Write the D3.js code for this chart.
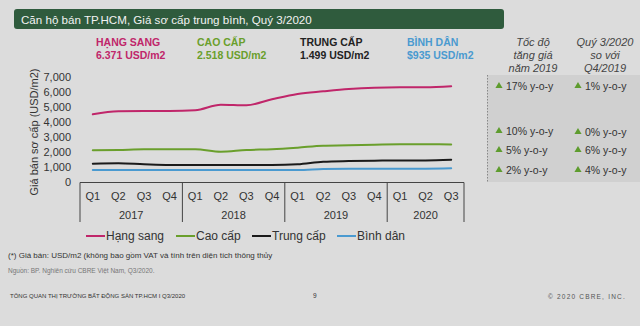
<!DOCTYPE html>
<html>
<head>
<meta charset="utf-8">
<script src="https://cdn.jsdelivr.net/npm/d3@7"></script>
<style>
  html, body { margin: 0; padding: 0; background: #dcdcdc; }
  svg { display: block; font-family: "Liberation Sans", Arial, sans-serif; }
</style>
</head>
<body>
<svg id="chart" width="640" height="326"></svg>
<script>
// Quarterly primary prices, HCMC condominiums (USD/m2)
const quarters = ["Q1","Q2","Q3","Q4","Q1","Q2","Q3","Q4","Q1","Q2","Q3","Q4","Q1","Q2","Q3"];
const years = ["2017","2018","2019","2020"];
const yearQuarterCounts = [4, 4, 4, 3];
const hangSang = [4516, 4715, 4735, 4735, 4781, 5152, 5113, 5510, 5862, 6040, 6194, 6280, 6306, 6306, 6371];
const caoCap   = [2128, 2150, 2195, 2195, 2195, 2036, 2150, 2195, 2300, 2434, 2456, 2500, 2522, 2522, 2518];
const trungCap = [1240, 1266, 1200, 1154, 1154, 1154, 1154, 1154, 1200, 1373, 1417, 1440, 1460, 1460, 1499];
const binhDan  = [822, 822, 822, 822, 822, 822, 822, 822, 822, 889, 911, 911, 911, 911, 935];
const yTicks = [0, 1000, 2000, 3000, 4000, 5000, 6000, 7000];

const seriesNames = ["Hạng sang", "Cao cấp", "Trung cấp", "Bình dân"];
const headerNames = ["HẠNG SANG", "CAO CẤP", "TRUNG CẤP", "BÌNH DÂN"];
const headerValues = ["6.371 USD/m2", "2.518 USD/m2", "1.499 USD/m2", "$935 USD/m2"];
const growth2019 = ["17% y-o-y", "10% y-o-y", "5% y-o-y", "2% y-o-y"];
const growthQ3 = ["1% y-o-y", "0% y-o-y", "6% y-o-y", "4% y-o-y"];
const colors = ["#c0266a", "#6a9f2c", "#1a1a1a", "#4a9ad0"];

const svg = d3.select("#chart");

// title bar
svg.append("rect").attr("x", 14).attr("y", 9).attr("width", 490).attr("height", 20)
  .attr("rx", 3).attr("fill", "#2f5b3d");
svg.append("text").attr("x", 21).attr("y", 23.5).attr("fill", "#f2f2f2")
  .attr("font-size", 11.6).text("Căn hộ bán TP.HCM, Giá sơ cấp trung bình, Quý 3/2020");

// header: segment name + latest price
const headerX = [96, 197, 300, 407];
headerNames.forEach((n, i) => {
  const c = colors[i] === "#1a1a1a" ? "#222" : colors[i];
  svg.append("text").attr("x", headerX[i]).attr("y", 46).attr("font-size", 10.5)
    .attr("font-weight", "bold").attr("fill", c).text(n);
  svg.append("text").attr("x", headerX[i]).attr("y", 59).attr("font-size", 10.5)
    .attr("font-weight", "bold").attr("fill", c).text(headerValues[i]);
});

// scales
const x = d3.scaleBand().domain(d3.range(quarters.length)).range([80, 464]).padding(0);
const y = d3.scaleLinear().domain([0, 7000]).range([182.4, 76.8]);

// y axis (labels only)
const yAxis = d3.axisLeft(y).tickValues(yTicks).tickFormat(d3.format(",")).tickSize(0).tickPadding(0);
const gy = svg.append("g").attr("transform", "translate(71,0)").call(yAxis);
gy.select(".domain").remove();
gy.selectAll("text").attr("font-size", 11).attr("fill", "#333")
  .attr("font-family", "'Liberation Sans', Arial, sans-serif");

svg.append("text")
  .attr("transform", "translate(38,132) rotate(-90)")
  .attr("text-anchor", "middle").attr("font-size", 11).attr("fill", "#333")
  .text("Giá bán sơ cấp (USD/m2)");

// category box: quarters and years
const xAxisG = svg.append("g");
xAxisG.append("line").attr("x1", 80).attr("x2", 464).attr("y1", 182.5).attr("y2", 182.5)
  .attr("stroke", "#444").attr("stroke-width", 1);
let start = 0;
const bounds = [0];
yearQuarterCounts.forEach(c => { start += c; bounds.push(start); });
bounds.forEach(b => {
  const bx = b < quarters.length ? x(b) : x(quarters.length - 1) + x.bandwidth();
  xAxisG.append("line").attr("x1", bx).attr("x2", bx).attr("y1", 182.5).attr("y2", 222)
    .attr("stroke", "#444").attr("stroke-width", 1);
});
quarters.forEach((q, i) => {
  xAxisG.append("text").attr("x", x(i) + x.bandwidth() / 2).attr("y", 200)
    .attr("text-anchor", "middle").attr("font-size", 11).attr("fill", "#333").text(q);
});
years.forEach((yr, i) => {
  const x0 = x(bounds[i]);
  const x1 = bounds[i + 1] < quarters.length ? x(bounds[i + 1]) : x(quarters.length - 1) + x.bandwidth();
  xAxisG.append("text").attr("x", (x0 + x1) / 2).attr("y", 219)
    .attr("text-anchor", "middle").attr("font-size", 11).attr("fill", "#333").text(yr);
});

// series lines
const allSeries = [hangSang, caoCap, trungCap, binhDan];
const line = d3.line()
  .x((d, i) => x(i) + x.bandwidth() / 2)
  .y(d => y(d))
  .curve(d3.curveMonotoneX);
allSeries.forEach((s, i) => {
  svg.append("path").datum(s).attr("d", line).attr("fill", "none")
    .attr("stroke", colors[i]).attr("stroke-width", 2).attr("stroke-linecap", "round");
});

// legend
const legendX = [86, 176, 252, 337];
seriesNames.forEach((n, i) => {
  svg.append("line").attr("x1", legendX[i]).attr("x2", legendX[i] + 19)
    .attr("y1", 236).attr("y2", 236).attr("stroke", colors[i]).attr("stroke-width", 2);
  svg.append("text").attr("x", legendX[i] + 20).attr("y", 240).attr("font-size", 12)
    .attr("fill", "#333").text(n);
});

// growth table
svg.append("rect").attr("x", 487).attr("y", 75).attr("width", 153).attr("height", 107)
  .attr("fill", "#d0d0d0");
svg.append("line").attr("x1", 487.5).attr("x2", 487.5).attr("y1", 75).attr("y2", 182)
  .attr("stroke", "#888").attr("stroke-dasharray", "1.5,1.5");
const colHeads = [["Tốc độ", "tăng giá", "năm 2019"], ["Quý 3/2020", "so với", "Q4/2019"]];
const colX = [533, 605];
colHeads.forEach((lines, c) => {
  lines.forEach((t, k) => {
    svg.append("text").attr("x", colX[c]).attr("y", 46 + k * 13).attr("text-anchor", "middle")
      .attr("font-size", 11).attr("font-style", "italic").attr("fill", "#444").text(t);
  });
});
const rowY = [86, 131, 150, 170];
const tri = d3.symbol().type(d3.symbolTriangle).size(22);
[growth2019, growthQ3].forEach((col, c) => {
  const tx = c === 0 ? 499 : 578;
  col.forEach((t, r) => {
    const ry = rowY[r] + (c === 1 && r === 1 ? 1 : 0);
    svg.append("path").attr("d", tri).attr("transform", `translate(${tx},${ry})`).attr("fill", "#5e9c2e");
    svg.append("text").attr("x", tx + 7).attr("y", ry + 4).attr("font-size", 10.5)
      .attr("fill", "#333").text(t);
  });
});

// notes and footer
svg.append("text").attr("x", 8).attr("y", 258).attr("font-size", 8).attr("fill", "#333")
  .text("(*) Giá bán: USD/m2 (không bao gồm VAT và tính trên diện tích thông thủy");
svg.append("text").attr("x", 8).attr("y", 273).attr("font-size", 6.5).attr("fill", "#777")
  .text("Nguồn: BP. Nghiên cứu CBRE Việt Nam, Q3/2020.");
svg.append("text").attr("x", 10).attr("y", 298).attr("font-size", 6).attr("fill", "#333")
  .text("TỔNG QUAN THỊ TRƯỜNG BẤT ĐỘNG SẢN TP.HCM I Q3/2020");
svg.append("text").attr("x", 313).attr("y", 298).attr("font-size", 6.5).attr("fill", "#333").text("9");
svg.append("text").attr("x", 548).attr("y", 299).attr("font-size", 6.5).attr("fill", "#555")
  .attr("letter-spacing", 1.2).text("© 2020 CBRE, INC.");
</script>
</body>
</html>
